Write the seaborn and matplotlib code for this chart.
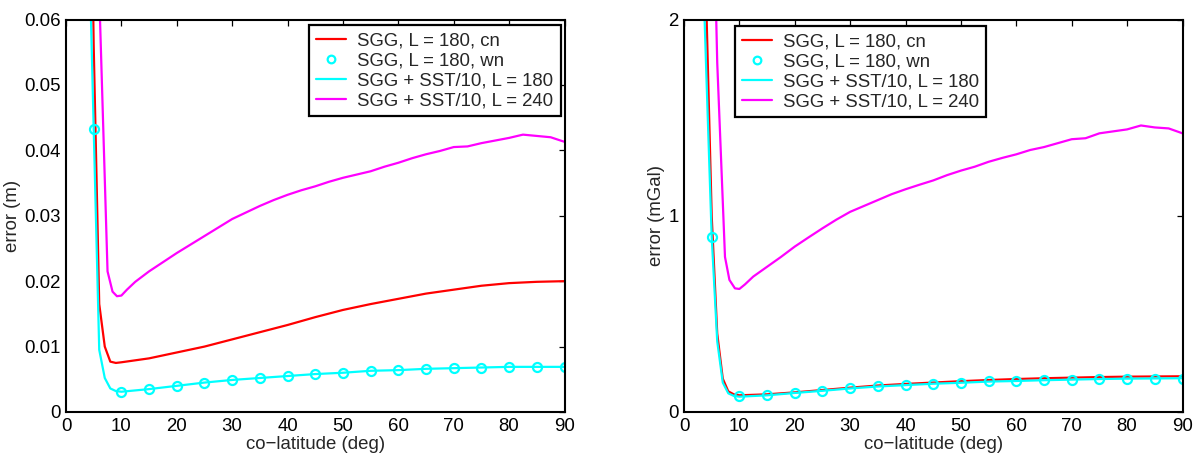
import numpy as np
import pandas as pd
import matplotlib
matplotlib.use("Agg")
import matplotlib.pyplot as plt
import seaborn as sns
from matplotlib.ticker import FuncFormatter

# ---------------- data ----------------
# Left panel: error (m)
x_cn_m = [4, 5, 6, 7, 8, 9, 10, 15, 20, 25, 30, 35, 40, 45, 50, 55, 60, 65, 70, 75, 80, 85, 90]
y_cn_m = [0.113, 0.056, 0.0165, 0.0100, 0.0077, 0.0075, 0.0076, 0.0082, 0.0091, 0.0100, 0.0111,
          0.0122, 0.0133, 0.0145, 0.0156, 0.0165, 0.0173, 0.0181, 0.0187, 0.0193, 0.0197, 0.0199, 0.0200]

x_sst180_m = [4, 5, 6, 7, 8, 9, 10, 15, 20, 25, 30, 35, 40, 45, 50, 55, 60, 65, 70, 75, 80, 85, 90]
y_sst180_m = [0.0774, 0.0433, 0.0095, 0.0052, 0.0036, 0.0032, 0.0031, 0.0035, 0.0040, 0.0045, 0.0049,
              0.0052, 0.0055, 0.0058, 0.0060, 0.0063, 0.0064, 0.0066, 0.0067, 0.0068, 0.0069, 0.0069, 0.0069]

x_wn_m = [5, 10, 15, 20, 25, 30, 35, 40, 45, 50, 55, 60, 65, 70, 75, 80, 85, 90]
y_wn_m = [0.0433, 0.0030, 0.0035, 0.0039, 0.0044, 0.0049, 0.0052, 0.0055, 0.0058, 0.0060, 0.0063,
          0.0064, 0.0066, 0.0067, 0.0068, 0.0069, 0.0069, 0.0069]

x_sst240_m = [5, 6, 7.5, 8.4, 9.2, 10, 11, 12.5, 15, 17.5, 20, 22.5, 25, 27.5, 30, 32.5, 35, 37.5, 40,
              42.5, 45, 47.5, 50, 52.5, 55, 57.5, 60, 62.5, 65, 67.5, 70, 72.5, 75, 77.5, 80, 82.5,
              85, 87.5, 90]
y_sst240_m = [0.300, 0.064, 0.0215, 0.0184, 0.0177, 0.0178, 0.0187, 0.0199, 0.0215, 0.0229, 0.0243,
              0.0256, 0.0269, 0.0282, 0.0295, 0.0305, 0.0315, 0.0324, 0.0332, 0.0339, 0.0345, 0.0352,
              0.0358, 0.0363, 0.0368, 0.0375, 0.0381, 0.0388, 0.0394, 0.0399, 0.0405, 0.0406, 0.0411,
              0.0415, 0.0419, 0.0424, 0.0422, 0.0420, 0.0413]

# Right panel: error (mGal)
x_cn_g = [3, 4, 5, 6, 7, 8, 9, 10, 15, 20, 25, 30, 35, 40, 45, 50, 55, 60, 65, 70, 75, 80, 85, 90]
y_cn_g = [8.0, 2.1, 1.0, 0.40, 0.17, 0.105, 0.090, 0.085, 0.090, 0.100, 0.112, 0.124, 0.135, 0.143,
          0.150, 0.157, 0.163, 0.168, 0.172, 0.175, 0.178, 0.180, 0.181, 0.182]

x_sst180_g = [3, 3.5, 4, 5, 6, 7, 8, 9, 10, 15, 20, 25, 30, 35, 40, 45, 50, 55, 60, 65, 70, 75, 80, 85, 90]
y_sst180_g = [10.0, 2.2, 1.75, 0.893, 0.36, 0.15, 0.095, 0.082, 0.078, 0.085, 0.097, 0.108, 0.120,
              0.130, 0.137, 0.144, 0.149, 0.155, 0.158, 0.162, 0.165, 0.168, 0.170, 0.171, 0.172]

x_wn_g = [5, 10, 15, 20, 25, 30, 35, 40, 45, 50, 55, 60, 65, 70, 75, 80, 85, 90]
y_wn_g = [0.893, 0.080, 0.088, 0.097, 0.109, 0.122, 0.131, 0.136, 0.144, 0.148, 0.156, 0.156, 0.165,
          0.161, 0.170, 0.170, 0.170, 0.170]

x_sst240_g = [5, 6, 7.4, 8.2, 9.2, 10, 11, 12.5, 15, 17.5, 20, 22.5, 25, 27.5, 30, 32.5, 35, 37.5, 40,
              42.5, 45, 47.5, 50, 52.5, 55, 57.5, 60, 62.5, 65, 67.5, 70, 72.5, 75, 77.5, 80, 82.5,
              85, 87.5, 90]
y_sst240_g = [3.0, 1.78, 0.79, 0.673, 0.630, 0.627, 0.650, 0.690, 0.740, 0.790, 0.843, 0.890, 0.936,
              0.980, 1.020, 1.050, 1.080, 1.110, 1.135, 1.158, 1.180, 1.207, 1.230, 1.250, 1.275,
              1.295, 1.313, 1.335, 1.350, 1.370, 1.390, 1.395, 1.420, 1.430, 1.440, 1.460, 1.450,
              1.445, 1.420]

labels = ["SGG, L = 180, cn", "SGG, L = 180, wn", "SGG + SST/10, L = 180", "SGG + SST/10, L = 240"]
x_ticks = [0, 10, 20, 30, 40, 50, 60, 70, 80, 90]
y_ticks_m = [0, 0.01, 0.02, 0.03, 0.04, 0.05, 0.06]
y_ticks_g = [0, 1, 2]

# ---------------- style ----------------
sns.set_theme(style="white")
plt.rcParams["font.family"] = ["Liberation Sans", "DejaVu Sans"]
plt.rcParams["axes.unicode_minus"] = True

FS = 13.4
fig = plt.figure(figsize=(11.99, 4.57), dpi=100)
axL = fig.add_axes([66 / 1199, 1 - 412 / 457, 498.5 / 1199, 392.5 / 457])
axR = fig.add_axes([684 / 1199, 1 - 412 / 457, 498.5 / 1199, 392.5 / 457])

C_RED = "#ff0000"
C_CYAN = "#00ffff"
C_MAG = "#ff00ff"


def panel(ax, xc, yc, xw, yw, x1, y1, x2, y2, ylim, yticks, ylabel, legend_anchor):
    sns.lineplot(x=xc, y=yc, ax=ax, color=C_RED, lw=1.6, label=labels[0],
                 sort=False, estimator=None)
    sns.lineplot(x=xw, y=yw, ax=ax, color=C_CYAN, lw=0, marker="o", markersize=6.5,
                 markerfacecolor="none", markeredgecolor=C_CYAN, markeredgewidth=1.6,
                 label=labels[1], sort=False, estimator=None)
    sns.lineplot(x=x1, y=y1, ax=ax, color=C_CYAN, lw=1.6, label=labels[2],
                 sort=False, estimator=None)
    sns.lineplot(x=x2, y=y2, ax=ax, color=C_MAG, lw=1.6, label=labels[3],
                 sort=False, estimator=None)
    ax.set_xlim(0, 90)
    ax.set_ylim(*ylim)
    ax.set_xticks(x_ticks)
    ax.set_yticks(yticks)
    ax.yaxis.set_major_formatter(FuncFormatter(lambda v, p: "%g" % v))
    ax.tick_params(direction="in", top=True, right=True, length=4.5, width=0.9,
                   labelsize=FS, pad=4, colors="black")
    for s in ax.spines.values():
        s.set_visible(True)
        s.set_color("black")
        s.set_linewidth(1.5)
    ax.set_xlabel("co\u2212latitude (deg)", fontsize=FS, labelpad=1)
    ax.set_ylabel(ylabel, fontsize=FS, labelpad=2)
    leg = ax.legend(loc="upper left", bbox_to_anchor=legend_anchor, borderaxespad=0,
                    fontsize=FS, frameon=True, fancybox=False, framealpha=1,
                    edgecolor="black", handlelength=1.6, handletextpad=0.6,
                    labelspacing=0.16, borderpad=0.38)
    leg.get_frame().set_linewidth(1.6)
    for h in leg.legend_handles:
        if hasattr(h, "set_markersize"):
            h.set_markersize(5.5)


panel(axL, x_cn_m, y_cn_m, x_wn_m, y_wn_m, x_sst180_m, y_sst180_m, x_sst240_m, y_sst240_m,
      (0, 0.06), y_ticks_m, "error (m)", ((309.3 - 66) / 498.5, 1 - (25 - 19.5) / 392.5))
panel(axR, x_cn_g, y_cn_g, x_wn_g, y_wn_g, x_sst180_g, y_sst180_g, x_sst240_g, y_sst240_g,
      (0, 2), y_ticks_g, "error (mGal)", ((735 - 684) / 498.5, 1 - (26 - 19.5) / 392.5))

fig.savefig("out.png", dpi=100)
